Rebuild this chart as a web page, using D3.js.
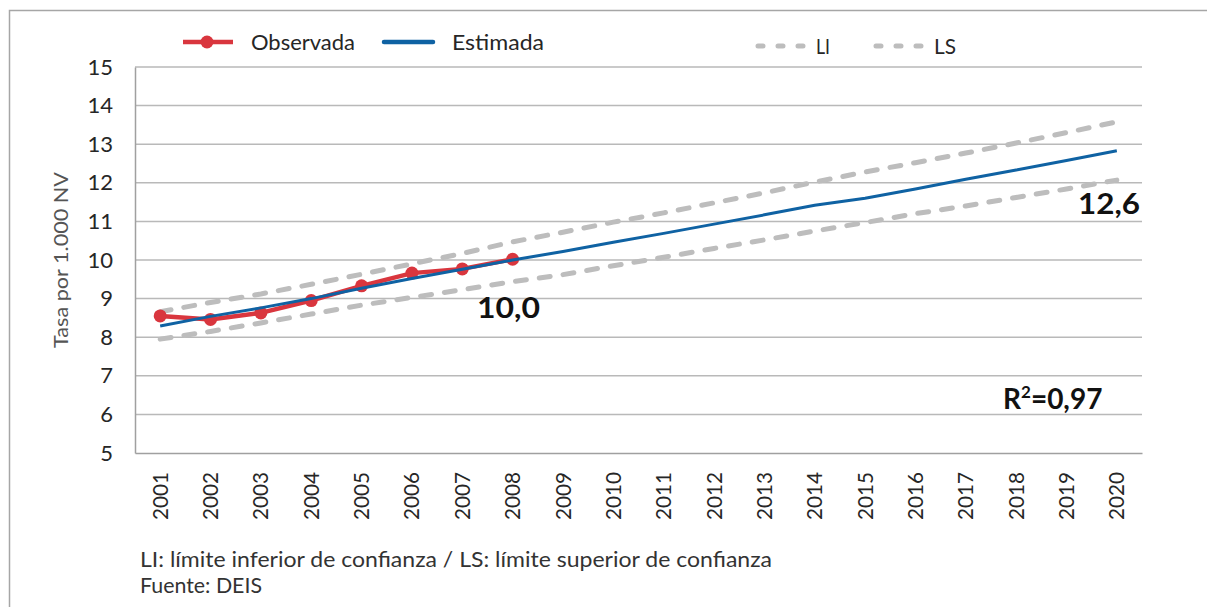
<!DOCTYPE html>
<html>
<head>
<meta charset="utf-8">
<script src="https://cdn.jsdelivr.net/npm/d3@7"></script>
<style>
  body { margin: 0; background: #fff; }
  svg text { font-family: Lato, "Noto Sans", sans-serif; }
</style>
</head>
<body>
<svg id="chart"></svg>
<script>
// values
const years = ["2001","2002","2003","2004","2005","2006","2007","2008","2009","2010",
               "2011","2012","2013","2014","2015","2016","2017","2018","2019","2020"];
const observada = [8.55, 8.46, 8.63, 8.95, 9.33, 9.66, 9.77, 10.02];
const estimada = [8.29, 8.54, 8.76, 9.00, 9.27, 9.52, 9.76, 10.00, 10.22, 10.46,
                  10.69, 10.93, 11.17, 11.42, 11.60, 11.84, 12.09, 12.33, 12.58, 12.83];
const limSup = [8.66, 8.90, 9.12, 9.37, 9.63, 9.90, 10.17, 10.47, 10.72, 10.98,
                11.22, 11.48, 11.74, 12.02, 12.28, 12.52, 12.77, 13.03, 13.30, 13.58];
const limInf = [7.95, 8.15, 8.37, 8.60, 8.83, 9.03, 9.23, 9.44, 9.62, 9.85,
                10.07, 10.30, 10.52, 10.75, 10.97, 11.20, 11.40, 11.62, 11.84, 12.07];
const yTicks = [5, 6, 7, 8, 9, 10, 11, 12, 13, 14, 15];

const width = 1207, height = 607;
const margin = {top: 67, right: 65, bottom: 154, left: 135};

const svg = d3.select("#chart").attr("width", width).attr("height", height);

// fit a text to a given width (reference font is a narrow one)
function fit(sel, w) {
    return sel.attr("textLength", w).attr("lengthAdjust", "spacingAndGlyphs");
}

// outer frame
svg.append("rect")
    .attr("x", 9.5).attr("y", 10.5)
    .attr("width", width + 20).attr("height", height + 20)
    .attr("fill", "none").attr("stroke", "#a6a6a6").attr("stroke-width", 1.5);

const x = d3.scaleBand().domain(years).range([margin.left, width - margin.right]);
const y = d3.scaleLinear().domain([5, 15]).range([height - margin.bottom, margin.top]);
const cx = d => x(d) + x.bandwidth() / 2;

// grid
svg.append("g")
    .selectAll("line")
    .data(yTicks.slice(1))
    .join("line")
    .attr("x1", margin.left).attr("x2", width - margin.right)
    .attr("y1", d => y(d)).attr("y2", d => y(d))
    .attr("stroke", "#b9b9b9").attr("stroke-width", 1.5);

// axes
const yAxis = svg.append("g")
    .attr("transform", `translate(${margin.left},0)`)
    .call(d3.axisLeft(y).tickValues(yTicks).tickSize(0).tickPadding(22));
yAxis.select(".domain").attr("stroke", "#a0a0a0").attr("stroke-width", 1.5);
yAxis.selectAll("text").attr("font-size", 22).attr("fill", "#262626");

const xAxis = svg.append("g")
    .attr("transform", `translate(0,${y(5)})`)
    .call(d3.axisBottom(x).tickSize(0).tickPadding(0));
xAxis.select(".domain").attr("stroke", "#a0a0a0").attr("stroke-width", 1.5);
xAxis.selectAll("text")
    .attr("font-size", 21).attr("fill", "#262626")
    .attr("text-anchor", "end")
    .attr("transform", "translate(0,19) rotate(-90)")
    .attr("dx", 0).attr("dy", "0.36em").attr("y", 0)
    .call(fit, 48);

// y title
fit(svg.append("text")
    .attr("transform", `translate(68,${(y(5) + y(15)) / 2}) rotate(-90)`)
    .attr("text-anchor", "middle")
    .attr("font-size", 19).attr("fill", "#555")
    .text("Tasa por 1.000 NV"), 176);

const line = d3.line().x((d, i) => cx(years[i])).y(d => y(d));

// confidence limits
[limSup, limInf].forEach(s => {
    svg.append("path")
        .datum(s)
        .attr("d", line)
        .attr("fill", "none")
        .attr("stroke", "#bdbdbd")
        .attr("stroke-width", 5)
        .attr("stroke-dasharray", "11 13")
        .attr("stroke-linecap", "round");
});

// observed
svg.append("path")
    .datum(observada)
    .attr("d", line)
    .attr("fill", "none")
    .attr("stroke", "#d9363e")
    .attr("stroke-width", 4.5);
svg.append("g")
    .selectAll("circle")
    .data(observada)
    .join("circle")
    .attr("cx", (d, i) => cx(years[i]))
    .attr("cy", d => y(d))
    .attr("r", 6.5)
    .attr("fill", "#d9363e");

// estimated
svg.append("path")
    .datum(estimada)
    .attr("d", line)
    .attr("fill", "none")
    .attr("stroke", "#0f62a3")
    .attr("stroke-width", 3);

// annotations
fit(svg.append("text")
    .attr("x", 477).attr("y", 318)
    .attr("font-size", 28).attr("font-weight", "bold").attr("fill", "#111")
    .text("10,0"), 63);
fit(svg.append("text")
    .attr("x", 1078).attr("y", 214)
    .attr("font-size", 28).attr("font-weight", "bold").attr("fill", "#111")
    .text("12,6"), 62);
const r2 = svg.append("text")
    .attr("x", 1003).attr("y", 409)
    .attr("font-size", 28).attr("font-weight", "bold").attr("fill", "#111");
r2.append("tspan").text("R");
r2.append("tspan").attr("font-size", 17).attr("dy", -11).text("2");
r2.append("tspan").attr("dy", 11).text("=0,97");

// legend
const legend = svg.append("g");
legend.append("line")
    .attr("x1", 183).attr("x2", 233).attr("y1", 42).attr("y2", 42)
    .attr("stroke", "#d9363e").attr("stroke-width", 4.5);
legend.append("circle").attr("cx", 207).attr("cy", 42).attr("r", 6.5).attr("fill", "#d9363e");
fit(legend.append("text").attr("x", 251).attr("y", 50).attr("font-size", 22).attr("fill", "#262626").text("Observada"), 104);

legend.append("line")
    .attr("x1", 384).attr("x2", 433).attr("y1", 42).attr("y2", 42)
    .attr("stroke", "#0f62a3").attr("stroke-width", 4.5).attr("stroke-linecap", "round");
fit(legend.append("text").attr("x", 452).attr("y", 50).attr("font-size", 22).attr("fill", "#262626").text("Estimada"), 92);

[["LI", 758, 14], ["LS", 876, 22]].forEach(([lab, x0, w]) => {
    legend.append("line")
        .attr("x1", x0).attr("x2", x0 + 46).attr("y1", 46).attr("y2", 46)
        .attr("stroke", "#bdbdbd").attr("stroke-width", 5)
        .attr("stroke-dasharray", "5 15").attr("stroke-linecap", "round");
    fit(legend.append("text").attr("x", x0 + 58).attr("y", 54)
        .attr("font-size", 22).attr("fill", "#262626").text(lab), w);
});

// footnote
fit(svg.append("text").attr("x", 140).attr("y", 567)
    .attr("font-size", 21).attr("fill", "#333")
    .text("LI: límite inferior de confianza / LS: límite superior de confianza"), 632);
fit(svg.append("text").attr("x", 140).attr("y", 593)
    .attr("font-size", 21).attr("fill", "#333")
    .text("Fuente: DEIS"), 122);
</script>
</body>
</html>
